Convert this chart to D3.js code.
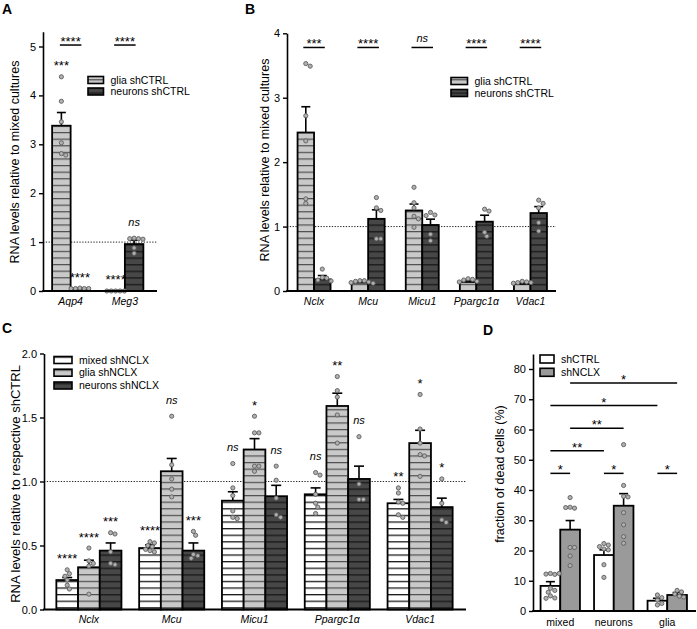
<!DOCTYPE html>
<html><head><meta charset="utf-8">
<script src="https://cdn.jsdelivr.net/npm/d3@7"></script>
<style>
body{margin:0;background:#fff}
svg{display:block;font-family:"Liberation Sans",Arial,Helvetica,sans-serif}
</style>
</head><body><svg id="c" width="697" height="629"></svg>
<script>
// ---------------- DATA ----------------
// Panel A
const catsA = ["Aqp4", "Meg3"];
const gliaA_mean = [3.38, 0.01];
const gliaA_sem = [0.27, 0.0];
const gliaA_dots = [[4.38, 3.88, 3.46, 3.03, 2.81, 2.78], [0, 0, 0, 0, 0]];
const neurA_mean = [0.05, 0.96];
const neurA_sem = [0.01, 0.08];
const neurA_dots = [[0.06, 0.05, 0.05, 0.05, 0.05], [1.08, 1.07, 1.07, 1.06, 0.88, 0.77]];
const labelsA = [["***", "****"], ["****", "ns"]];   // [category][series]
const bracketA = ["****", "****"];
const bracketA_level = 5.03;
const ticksA = [0, 1, 2, 3, 4, 5];

// Panel B
const catsB = ["Nclx", "Mcu", "Micu1", "Ppargc1\u03B1", "Vdac1"];
const gliaB_mean = [2.46, 0.13, 1.25, 0.14, 0.11];
const gliaB_sem = [0.40, 0.02, 0.10, 0.02, 0.02];
const gliaB_dots = [
  [3.53, 3.49, 2.72, 2.33, 1.43, 1.36],
  [0.16, 0.16, 0.15, 0.14, 0.13, 0.12],
  [1.61, 1.37, 1.29, 1.16, 1.12, 0.99],
  [0.19, 0.18, 0.17, 0.15, 0.14],
  [0.15, 0.14, 0.13, 0.13, 0.12]
];
const neurB_mean = [0.18, 1.12, 1.025, 1.076, 1.21];
const neurB_sem = [0.06, 0.14, 0.09, 0.10, 0.10];
const neurB_dots = [
  [0.34, 0.21, 0.20, 0.17, 0.155],
  [1.45, 1.29, 1.25, 0.81, 0.81],
  [1.22, 1.18, 1.17, 0.88, 0.78],
  [1.27, 1.24, 0.91, 0.85],
  [1.41, 1.36, 1.29, 1.06, 0.93]
];
const bracketB = ["***", "****", "ns", "****", "****"];
const bracketB_level = 3.78;
const ticksB = [0, 1, 2, 3, 4];

// Panel C
const catsC = ["Nclx", "Mcu", "Micu1", "Ppargc1\u03B1", "Vdac1"];
const mixC_mean = [0.23, 0.48, 0.85, 0.90, 0.83];
const mixC_sem = [0.02, 0.025, 0.07, 0.05, 0.03];
const mixC_dots = [
  [0.31, 0.28, 0.26, 0.23, 0.19, 0.16],
  [0.53, 0.52, 0.50, 0.49, 0.47, 0.46, 0.45],
  [1.14, 0.95, 0.89, 0.77, 0.72, 0.71],
  [1.07, 1.05, 0.90, 0.83, 0.80, 0.75],
  [0.95, 0.91, 0.84, 0.83, 0.74, 0.72]
];
const gliaC_mean = [0.33, 1.08, 1.25, 1.59, 1.30];
const gliaC_sem = [0.055, 0.10, 0.085, 0.10, 0.10];
const gliaC_dots = [
  [0.48, 0.38, 0.36, 0.34, 0.12],
  [1.51, 1.13, 1.02, 0.94, 0.88],
  [1.51, 1.38, 1.38, 1.12, 1.12, 1.08],
  [1.82, 1.71, 1.66, 1.52, 1.30],
  [1.68, 1.41, 1.30, 1.21, 1.20, 1.04]
];
const neurC_mean = [0.46, 0.46, 0.885, 1.02, 0.80];
const neurC_sem = [0.06, 0.06, 0.085, 0.10, 0.07];
const neurC_dots = [
  [0.60, 0.59, 0.45, 0.36, 0.35],
  [0.61, 0.58, 0.43, 0.42, 0.40],
  [1.12, 1.01, 0.87, 0.74, 0.72],
  [1.35, 0.98, 0.86, 0.86],
  [1.02, 0.83, 0.70, 0.68]
];
const labelsC = [
  ["****", "****", "***"],
  ["****", "ns", "***"],
  ["ns", "*", "ns"],
  ["ns", "**", "ns"],
  ["**", "*", "*"]
];
const ticksC = [0, 0.5, 1.0, 1.5, 2.0];

// Panel D
const catsD = ["mixed", "neurons", "glia"];
const ctrlD_mean = [8.3, 18.5, 3.4];
const ctrlD_sem = [1.4, 1.7, 0.8];
const ctrlD_dots = [
  [12.4, 12.1, 12.2, 12.4, 7.5, 6.8, 6.2, 5.0, 4.3, 4.2],
  [22.3, 21.8, 21.3, 20.5, 20.2, 15.3, 11.1],
  [5.3, 4.4, 3.6, 2.5, 2.0]
];
const nclxD_mean = [26.9, 34.8, 5.3];
const nclxD_sem = [3.0, 4.0, 0.8];
const nclxD_dots = [
  [37.5, 34.3, 34.0, 34.2, 21.0, 21.0, 18.2, 15.0],
  [55.0, 41.5, 37.9, 37.7, 32.5, 28.5, 24.6, 22.4],
  [6.8, 6.3, 5.6, 4.9, 4.6]
];
// brackets: [catA, seriesA, catB, seriesB, level, label]
const bracketsD = [
  [0, 0, 0, 1, 45.5, "*"],
  [1, 0, 1, 1, 45.5, "*"],
  [2, 0, 2, 1, 45.5, "*"],
  [0, 0, 1, 0, 53.0, "**"],
  [0, 1, 1, 1, 60.4, "**"],
  [0, 0, 2, 0, 67.9, "*"],
  [0, 1, 2, 1, 75.4, "*"]
];
const ticksD = [0, 10, 20, 30, 40, 50, 60, 70, 80];

// ---------------- DRAWING ----------------
const svg = d3.select("#c");
const defs = svg.append("defs");
function stripe(id, base, line, lw) {
  const p = defs.append("pattern").attr("id", id)
    .attr("patternUnits", "userSpaceOnUse").attr("width", 10).attr("height", 6.6);
  p.append("rect").attr("width", 10).attr("height", 6.6).attr("fill", base);
  p.append("rect").attr("y", 0).attr("width", 10).attr("height", lw).attr("fill", line);
}
stripe("pMixed", "#ffffff", "#1a1a1a", 1.3);
stripe("pGlia", "#c9c9c9", "#4f4f4f", 1.2);
stripe("pNeur", "#474747", "#1e1e1e", 1.5);
const F_MIX = "url(#pMixed)", F_GLIA = "url(#pGlia)", F_NEUR = "url(#pNeur)";

function swarm(vals, cxv, y, r) {
  const placed = [];
  vals.forEach(v => {
    const py = y(v);
    const step = r * 1.0;
    for (let k = 0; k < 60; k++) {
      const off = k === 0 ? 0 : (k % 2 ? 1 : -1) * Math.ceil(k / 2) * step;
      const px = cxv + off;
      if (placed.every(p => Math.hypot(p[0] - px, p[1] - py) >= 2 * r - 0.2)) {
        placed.push([px, py]); break;
      }
    }
  });
  return placed;
}

function drawPanel(P) {
  const g = svg.append("g");
  const y = d3.scaleLinear().domain(P.yDomain).range(P.yRange);
  const x = d3.scaleBand().domain(P.cats).range(P.xRange).padding(0);
  const nS = P.series.length;
  const left = (ci, si) => x(P.cats[ci]) + x.bandwidth() / 2 - nS * P.barW / 2 + si * P.barW;
  const cx = (ci, si) => left(ci, si) + P.barW / 2;
  const base = y(0);

  if (P.refLine != null) {
    g.append("line").attr("x1", P.axisX).attr("x2", P.xEnd)
      .attr("y1", y(P.refLine)).attr("y2", y(P.refLine))
      .attr("stroke", "#222").attr("stroke-width", 1).attr("stroke-dasharray", "1.3,1.5");
  }
  // bars
  P.series.forEach((s, si) => {
    P.cats.forEach((c, ci) => {
      const m = s.mean[ci];
      g.append("rect").attr("x", left(ci, si)).attr("y", y(m))
        .attr("width", P.barW).attr("height", Math.max(0, base - y(m)))
        .attr("fill", s.fill).attr("stroke", "#000").attr("stroke-width", 1.8);
    });
  });
  // error bars
  P.series.forEach((s, si) => {
    P.cats.forEach((c, ci) => {
      const m = s.mean[ci], e = s.sem[ci];
      if (e <= 0) return;
      const xc = cx(ci, si);
      g.append("line").attr("x1", xc).attr("x2", xc).attr("y1", y(m)).attr("y2", y(m + e))
        .attr("stroke", "#000").attr("stroke-width", 1.6);
      g.append("line").attr("x1", xc - P.capW).attr("x2", xc + P.capW)
        .attr("y1", y(m + e)).attr("y2", y(m + e))
        .attr("stroke", "#000").attr("stroke-width", 1.6);
    });
  });
  // dots
  P.series.forEach((s, si) => {
    P.cats.forEach((c, ci) => {
      const pts = swarm(s.dots[ci], cx(ci, si), y, 2.2);
      g.selectAll(null).data(pts).enter().append("circle")
        .attr("cx", d => d[0]).attr("cy", d => d[1]).attr("r", 2.1)
        .attr("fill", "#b0b0b0").attr("stroke", "#5e5e5e").attr("stroke-width", 0.9);
    });
  });
  // per-bar labels
  if (P.labels) {
    P.series.forEach((s, si) => {
      P.cats.forEach((c, ci) => {
        const lab = P.labels[ci][si];
        if (!lab) return;
        const top = Math.max(s.mean[ci] + s.sem[ci], d3.max(s.dots[ci]));
        const isNs = lab === "ns";
        g.append("text").attr("x", cx(ci, si))
          .attr("y", y(top) - (isNs ? 12.6 : 6.5))
          .attr("text-anchor", "middle")
          .attr("font-size", isNs ? 11 : 13)
          .attr("font-style", isNs ? "italic" : "normal")
          .text(lab);
      });
    });
  }
  // brackets
  (P.brackets || []).forEach(b => {
    const [ca, sa, cb, sb, lev, lab] = b;
    const x1 = cx(ca, sa) - (P.brExt || 0), x2 = cx(cb, sb) + (P.brExt || 0);
    const yy = y(lev);
    g.append("line").attr("x1", x1).attr("x2", x2).attr("y1", yy).attr("y2", yy)
      .attr("stroke", "#000").attr("stroke-width", 1.5);
    const isNs = lab === "ns";
    g.append("text").attr("x", (x1 + x2) / 2).attr("y", isNs ? yy - 5 : yy + 1)
      .attr("text-anchor", "middle")
      .attr("font-size", isNs ? 11 : 13)
      .attr("font-style", isNs ? "italic" : "normal")
      .text(lab);
  });
  // y axis
  const ax = g.append("g").attr("transform", `translate(${P.axisX},0)`)
    .call(d3.axisLeft(y).tickValues(P.ticks).tickSize(4).tickSizeOuter(0).tickPadding(3).tickFormat(P.fmt));
  ax.select(".domain").attr("stroke", "#000").attr("stroke-width", 1.6);
  ax.selectAll(".tick line").attr("stroke", "#000").attr("stroke-width", 1.4);
  ax.selectAll(".tick text").attr("font-size", 11).attr("font-family", null).attr("fill", "#000");
  ax.attr("font-family", null);
  // x axis line
  g.append("line").attr("x1", P.axisX - 0.8).attr("x2", P.xEnd).attr("y1", base).attr("y2", base)
    .attr("stroke", "#000").attr("stroke-width", 1.8);
  // category labels
  P.cats.forEach((c, ci) => {
    g.append("text").attr("x", x(c) + x.bandwidth() / 2).attr("y", base + P.catDy)
      .attr("text-anchor", "middle").attr("font-size", 10.5)
      .attr("font-style", P.catItalic ? "italic" : "normal").text(c);
  });
  // y title
  g.append("text").attr("transform", `translate(${P.titleX},${P.titleY}) rotate(-90)`)
    .attr("text-anchor", "middle").attr("dy", "0.35em").attr("font-size", P.titleSize)
    .text(P.title);
  // legend
  P.legend.forEach(l => {
    g.append("rect").attr("x", l.x).attr("y", l.y - l.h / 2).attr("width", l.w).attr("height", l.h)
      .attr("fill", l.fill).attr("stroke", "#000").attr("stroke-width", 1.6);
    g.append("text").attr("x", l.x + l.w + 7).attr("y", l.y).attr("dy", "0.35em")
      .attr("font-size", 10.5).text(l.text);
  });
  // panel letter
  g.append("text").attr("x", P.letterX).attr("y", P.letterY).attr("font-size", 14)
    .attr("font-weight", "bold").text(P.letter);
}

// Panel A
drawPanel({
  letter: "A", letterX: 2, letterY: 14,
  cats: catsA, xRange: [43.5, 152], barW: 18.5, capW: 4.5, axisX: 43, xEnd: 157,
  yDomain: [0, 5.3], yRange: [291, 291 - 5.3 * 48.9], ticks: ticksA, fmt: d3.format("d"),
  refLine: 1, catDy: 14, catItalic: true,
  series: [
    { mean: gliaA_mean, sem: gliaA_sem, dots: gliaA_dots, fill: F_GLIA },
    { mean: neurA_mean, sem: neurA_sem, dots: neurA_dots, fill: F_NEUR }
  ],
  labels: labelsA,
  brackets: bracketA.map((l, i) => [i, 0, i, 1, bracketA_level, l]), brExt: 1.5,
  title: "RNA levels relative to mixed cultures", titleX: 15, titleY: 162, titleSize: 12.5,
  legend: [
    { x: 88, y: 80, w: 15.5, h: 7, fill: F_GLIA, text: "glia shCTRL" },
    { x: 88, y: 91.5, w: 15.5, h: 7, fill: F_NEUR, text: "neurons shCTRL" }
  ]
});

// Panel B
drawPanel({
  letter: "B", letterX: 245, letterY: 14,
  cats: catsB, xRange: [287, 557.5], barW: 16.5, capW: 4.5, axisX: 287, xEnd: 556,
  yDomain: [0, 4], yRange: [291, 33.3], ticks: ticksB, fmt: d3.format("d"),
  refLine: 1, catDy: 14, catItalic: true,
  series: [
    { mean: gliaB_mean, sem: gliaB_sem, dots: gliaB_dots, fill: F_GLIA },
    { mean: neurB_mean, sem: neurB_sem, dots: neurB_dots, fill: F_NEUR }
  ],
  brackets: bracketB.map((l, i) => [i, 0, i, 1, bracketB_level, l]), brExt: 2.5,
  title: "RNA levels relative to mixed cultures", titleX: 265, titleY: 160, titleSize: 12.5,
  legend: [
    { x: 451, y: 81, w: 16.5, h: 7, fill: F_GLIA, text: "glia shCTRL" },
    { x: 451, y: 93, w: 16.5, h: 7, fill: F_NEUR, text: "neurons shCTRL" }
  ]
});

// Panel C
drawPanel({
  letter: "C", letterX: 2, letterY: 333,
  cats: catsC, xRange: [47.5, 461.5], barW: 21.7, capW: 5, axisX: 44, xEnd: 466,
  yDomain: [0, 2], yRange: [609.5, 353.5], ticks: ticksC, fmt: d3.format(".1f"),
  refLine: 1, catDy: 13, catItalic: true,
  series: [
    { mean: mixC_mean, sem: mixC_sem, dots: mixC_dots, fill: F_MIX },
    { mean: gliaC_mean, sem: gliaC_sem, dots: gliaC_dots, fill: F_GLIA },
    { mean: neurC_mean, sem: neurC_sem, dots: neurC_dots, fill: F_NEUR }
  ],
  labels: labelsC,
  title: "RNA levels relative to respective shCTRL", titleX: 15, titleY: 484, titleSize: 13,
  legend: [
    { x: 54, y: 360, w: 18, h: 7, fill: F_MIX, text: "mixed shNCLX" },
    { x: 54, y: 372.7, w: 18, h: 7, fill: F_GLIA, text: "glia shNCLX" },
    { x: 54, y: 385.5, w: 18, h: 7, fill: F_NEUR, text: "neurons shNCLX" }
  ]
});

// Panel D
drawPanel({
  letter: "D", letterX: 483, letterY: 335,
  cats: catsD, xRange: [533.5, 694], barW: 19.7, capW: 4.5, axisX: 533, xEnd: 696,
  yDomain: [0, 85], yRange: [611, 611 - 85 * 3.025], ticks: ticksD, fmt: d3.format("d"),
  refLine: null, catDy: 15, catItalic: false,
  series: [
    { mean: ctrlD_mean, sem: ctrlD_sem, dots: ctrlD_dots, fill: "#ffffff" },
    { mean: nclxD_mean, sem: nclxD_sem, dots: nclxD_dots, fill: "#9a9a9a" }
  ],
  brackets: bracketsD, brExt: 0,
  title: "fraction of dead cells (%)", titleX: 500, titleY: 474, titleSize: 12.5,
  legend: [
    { x: 540, y: 359, w: 14, h: 8, fill: "#ffffff", text: "shCTRL" },
    { x: 540, y: 372.3, w: 14, h: 8, fill: "#9a9a9a", text: "shNCLX" }
  ]
});
</script>
</body></html>
